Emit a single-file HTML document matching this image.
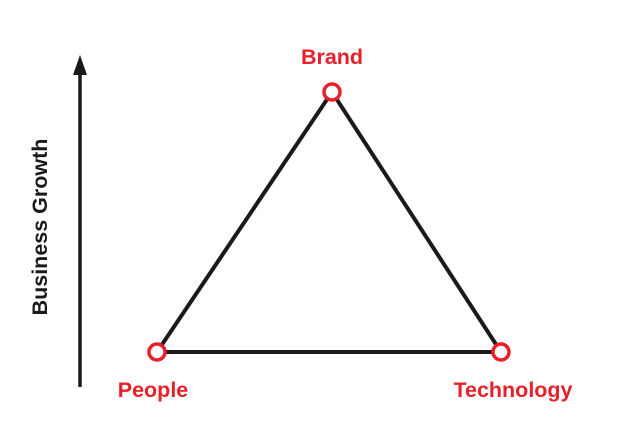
<!DOCTYPE html>
<html><head><meta charset="utf-8"><style>
html,body{margin:0;padding:0;background:#fff;}
svg{display:block;}
text{font-family:"Liberation Sans",Arial,sans-serif;font-weight:bold;}
</style></head><body>
<svg width="640" height="447" viewBox="0 0 640 447">
<line x1="80" y1="72" x2="80" y2="387" stroke="#1a1a1a" stroke-width="3.5"/>
<polygon points="80,55 73,75 87,75" fill="#1a1a1a"/>
<text x="0" y="0" transform="translate(47,227) rotate(-90)" text-anchor="middle" font-size="21.5" fill="#1a1a1a">Business Growth</text>
<polygon points="332,92 157,352 501,352" fill="none" stroke="#1a1a1a" stroke-width="4" stroke-linejoin="miter"/>
<circle cx="332" cy="92" r="8" fill="#fff" stroke="#e8202a" stroke-width="3.5"/>
<circle cx="157" cy="352" r="8" fill="#fff" stroke="#e8202a" stroke-width="3.5"/>
<circle cx="501" cy="352" r="8" fill="#fff" stroke="#e8202a" stroke-width="3.5"/>
<text x="332" y="64" text-anchor="middle" font-size="21.5" fill="#e8202a">Brand</text>
<text x="153" y="397" text-anchor="middle" font-size="21.5" fill="#e8202a">People</text>
<text x="513" y="397" text-anchor="middle" font-size="21.5" fill="#e8202a">Technology</text>
</svg>
</body></html>
